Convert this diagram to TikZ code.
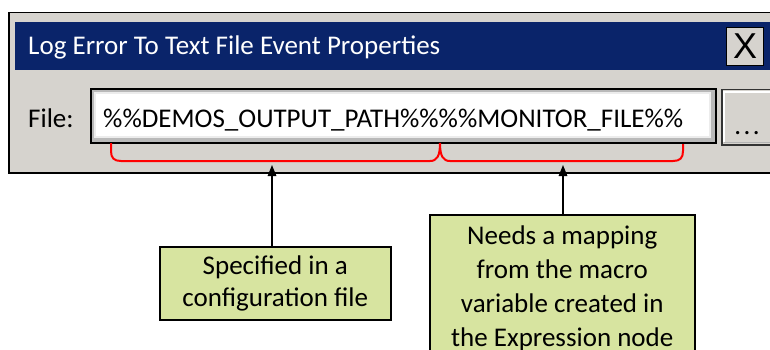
\documentclass[tikz,border=0pt]{standalone}
\usepackage{fontspec}
\setmainfont{Carlito}
\newfontfamily\xfont{Liberation Sans}
\usetikzlibrary{arrows.meta,calc}
\definecolor{wingray}{HTML}{D6D3CE}
\definecolor{titleblue}{HTML}{0A246A}
\definecolor{notegreen}{HTML}{D7E4A0}
\definecolor{bracered}{HTML}{FF0000}
\begin{document}
\begin{tikzpicture}[x=1pt,y=-1pt,
  txt/.style={font=\fontsize{27}{34}\selectfont, inner sep=0pt},
  note/.style={draw=black, line width=1.5pt, fill=notegreen, align=center, inner sep=0pt, anchor=north west},
  arr/.style={-{Triangle[length=11pt,width=8.5pt]}, line width=1.5pt},
  brace/.style={draw=bracered, line width=2pt}]
\useasboundingbox (0,0) rectangle (770,350);
\clip (0,0) rectangle (770,350);
% window
\node[draw=black, line width=1.5pt, fill=wingray, minimum width=790pt, minimum height=160pt, anchor=north west, inner sep=0pt] (win) at (8,12) {};
\node[fill=titleblue, minimum width=780pt, minimum height=48pt, anchor=north west, inner sep=0pt] (bar) at (15,22) {};
\node[txt, text=white, anchor=base west] (title) at (28,55) {Log Error To Text File Event Properties};
\node[draw=black, line width=1pt, fill=wingray, minimum width=37pt, minimum height=38pt, anchor=north west, inner sep=0pt, font=\xfont\fontsize{36}{36}\selectfont] (close) at (726,27) {X};
% file row
\node[txt, anchor=base west] (flabel) at (28,127) {File:};
\node[draw=black, line width=2pt, fill=gray!55, minimum width=625pt, minimum height=54pt, anchor=north west, inner sep=0pt] (field) at (90,88) {};
\node[fill=gray!15, minimum width=617pt, minimum height=46pt, anchor=north west, inner sep=0pt] (fieldmid) at (94,92) {};
\node[fill=white, minimum width=613pt, minimum height=42pt, anchor=north west, inner sep=0pt] (fieldin) at (96,94) {};
\node[txt, anchor=base west] (ftext) at (103,128) {\%\%DEMOS\_OUTPUT\_PATH\%\%\%\%MONITOR\_FILE\%\%};
% browse button
\node[draw=black!80, line width=1.5pt, fill=wingray, minimum width=60pt, minimum height=55pt, anchor=north west, inner sep=0pt] (browse) at (721,89) {};
\draw[white, line width=1.5pt] ($(browse.south west)+(3,-4)$) -- ($(browse.north west)+(3,3)$) -- ($(browse.north east)+(0,3)$);
\draw[gray!60, line width=1.5pt] ($(browse.south west)+(3,-3)$) -- ($(browse.south east)+(0,-3)$);
\node[txt, anchor=base] (dots) at (747,134) {.\hspace{2.4pt}.\hspace{2.4pt}.};
% brace
\draw[brace] (111,143) -- (111,151) .. controls (111,158) and (114,161) .. (121,161) -- (430,161) .. controls (437,161) and (440,156) .. (440,143) .. controls (440,156) and (443,161) .. (450,161) -- (673,161) .. controls (680,161) and (683,158) .. (683,151) -- (683,144);
% notes
\node[note, minimum width=231pt, minimum height=73pt, font=\fontsize{27}{32}\selectfont] (lnote) at (159,246) {Specified in a\\configuration file};
\node[note, minimum width=265pt, minimum height=148pt, font=\fontsize{27}{34}\selectfont] (rnote) at (429,214) {Needs a mapping\\from the macro\\variable created in\\the Expression node};
\coordinate (t1) at (272,165);
\coordinate (t2) at (563,165);
\draw[arr] (lnote.north -| t1) -- (t1);
\draw[arr] (rnote.north -| t2) -- (t2);
\end{tikzpicture}
\end{document}
